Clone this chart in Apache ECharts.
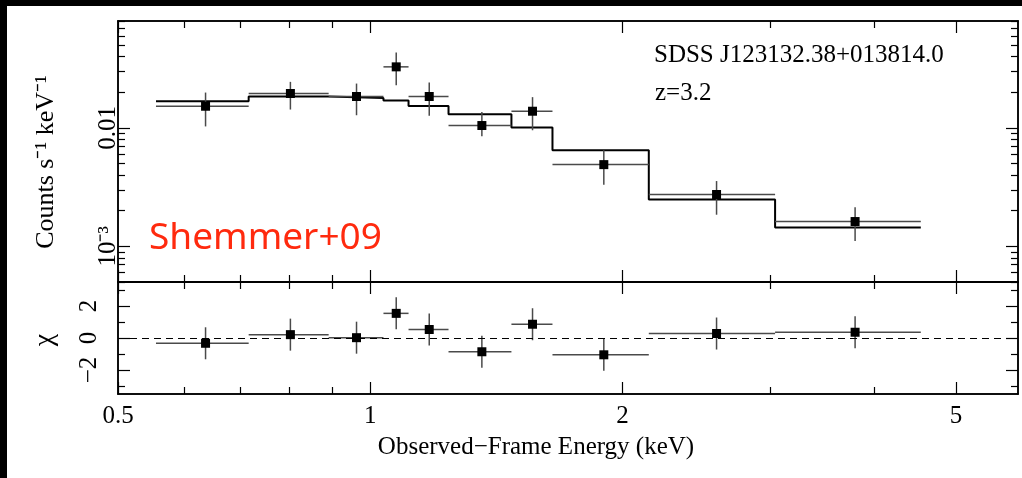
<!DOCTYPE html>
<html>
<head>
<meta charset="utf-8">
<script src="https://cdn.jsdelivr.net/npm/echarts@6/dist/echarts.min.js"></script>
<style>
html,body{margin:0;padding:0;background:#fff;overflow:hidden;}
#bt{position:absolute;left:0;top:0;right:0;height:6px;background:#000;}
#bl{position:absolute;left:0;top:0;bottom:0;width:7px;background:#000;}
#chart{position:absolute;left:0;top:0;width:1022px;height:478px;}
</style>
</head>
<body>
<div id="bt"></div>
<div id="bl"></div>
<div id="chart"></div>
<script>
// ---- data ----
const binEdges   = [0.555, 0.716, 0.892, 1.037, 1.111, 1.240, 1.474, 1.650, 2.150, 3.042, 4.54];
const binCenters = [0.636, 0.803, 0.963, 1.074, 1.176, 1.359, 1.562, 1.90, 2.59, 3.79];
const counts     = [0.01525, 0.01954, 0.01843, 0.0328, 0.01843, 0.01048, 0.01384, 0.0049, 0.00274, 0.00162];
const countsHi   = [0.0199, 0.0245, 0.0237, 0.0434, 0.0242, 0.01365, 0.0182, 0.00648, 0.00356, 0.00214];
const countsLo   = [0.0103, 0.0143, 0.0128, 0.0229, 0.0127, 0.0085, 0.00956, 0.00332, 0.00185, 0.00111];
const model      = [0.01682, 0.01843, 0.01793, 0.01704, 0.01535, 0.01303, 0.01008, 0.00648, 0.00249, 0.00144];
const chi        = [-0.33, 0.21, 0.02, 1.54, 0.53, -0.86, 0.86, -1.05, 0.28, 0.36];
const chiErr     = [1, 1, 1, 1, 1, 1, 1, 1, 1, 1];

const xRange = [0.5, 5.93];
const xMajorTicks = [0.5, 1, 2, 5];
const xTickLabels = ['0.5', '1', '2', '5'];
const xMinorTicks = [0.6, 0.7, 0.8, 0.9, 3, 4];
const yRange = [0.0005, 0.08];
const yMajorTicks = [0.001, 0.01];
const yTickLabels = ['10⁻³', '0.01'];
const yMinorTicks = [0.0005, 0.0006, 0.0007, 0.0008, 0.0009, 0.002, 0.003, 0.004, 0.005, 0.006, 0.007, 0.008, 0.009, 0.02, 0.03, 0.04, 0.05, 0.06, 0.07, 0.08];
const chiRange = [-3.5, 3.5];
const chiMajorTicks = [-2, 0, 2];
const chiTickLabels = ['−2', '0', '2'];
const chiMinorTicks = [-3, -1, 1, 3];

const SERIF = '"Liberation Serif","Times New Roman",serif';

// ---- build tables ----
const topErr = binCenters.map((c, i) => [c, counts[i], binEdges[i], binEdges[i + 1], countsLo[i], countsHi[i]]);
const botErr = binCenters.map((c, i) => [c, chi[i], binEdges[i], binEdges[i + 1], chi[i] - chiErr[i], chi[i] + chiErr[i]]);
const stepPts = [];
model.forEach((m, i) => { stepPts.push([binEdges[i], m]); stepPts.push([binEdges[i + 1], m]); });

const MAJ = 12, MIN = 7;
function axis(type, grid, pos, range, ticks, len, labels, labelOpt) {
  const a = {
    type: type, gridIndex: grid, position: pos, min: range[0], max: range[1],
    axisLine: {show: true, onZero: false, lineStyle: {color: '#000', width: 1.5}},
    axisTick: {show: true, inside: true, length: len, customValues: ticks, lineStyle: {color: '#000', width: 1.2}},
    splitLine: {show: false},
    axisLabel: {show: false}
  };
  if (type === 'log') a.logBase = 10;
  if (labels) {
    a.axisLabel = Object.assign({
      show: true, customValues: ticks, color: '#000', fontFamily: SERIF, fontSize: 25,
      formatter: function (v) {
        for (let k = 0; k < ticks.length; k++) if (Math.abs(ticks[k] - v) / Math.abs(ticks[k] || 1) < 1e-6) return labels[k];
        return '';
      }
    }, labelOpt || {});
  }
  return a;
}

const xAxes = [
  axis('log', 0, 'bottom', xRange, xMajorTicks, MAJ),
  axis('log', 0, 'bottom', xRange, xMinorTicks, MIN),
  axis('log', 0, 'top', xRange, xMajorTicks, MAJ),
  axis('log', 0, 'top', xRange, xMinorTicks, MIN),
  axis('log', 1, 'bottom', xRange, xMajorTicks, MAJ, xTickLabels, {margin: 10}),
  axis('log', 1, 'bottom', xRange, xMinorTicks, MIN),
  axis('log', 1, 'top', xRange, xMajorTicks, MAJ),
  axis('log', 1, 'top', xRange, xMinorTicks, MIN)
];
const yAxes = [
  axis('log', 0, 'left', yRange, yMajorTicks, MAJ, yTickLabels, {rotate: 90, margin: -3}),
  axis('log', 0, 'left', yRange, yMinorTicks, MIN),
  axis('log', 0, 'right', yRange, yMajorTicks, MAJ),
  axis('log', 0, 'right', yRange, yMinorTicks, MIN),
  axis('value', 1, 'left', chiRange, chiMajorTicks, MAJ, chiTickLabels, {rotate: 90, margin: 16}),
  axis('value', 1, 'left', chiRange, chiMinorTicks, MIN),
  axis('value', 1, 'right', chiRange, chiMajorTicks, MAJ),
  axis('value', 1, 'right', chiRange, chiMinorTicks, MIN)
];

function errRender(params, api) {
  const c = api.value(0), y = api.value(1);
  const pL = api.coord([api.value(2), y]);
  const pR = api.coord([api.value(3), y]);
  const pB = api.coord([c, api.value(4)]);
  const pT = api.coord([c, api.value(5)]);
  const st = {stroke: '#4a4a4a', lineWidth: 1.5};
  return {
    type: 'group',
    children: [
      {type: 'line', shape: {x1: pL[0], y1: pL[1], x2: pR[0], y2: pR[1]}, style: st},
      {type: 'line', shape: {x1: pB[0], y1: pB[1], x2: pT[0], y2: pT[1]}, style: st}
    ]
  };
}

const chart = echarts.init(document.getElementById('chart'), null, {renderer: 'canvas'});
chart.setOption({
  backgroundColor: 'transparent',
  animation: false,
  grid: [
    {left: 118, right: 4, top: 21, height: 261, outerBoundsMode: 'none', containLabel: false},
    {left: 118, right: 4, top: 282, height: 112, outerBoundsMode: 'none', containLabel: false}
  ],
  xAxis: xAxes,
  yAxis: yAxes,
  series: [
    {type: 'line', xAxisIndex: 0, yAxisIndex: 0, data: stepPts, showSymbol: false, symbol: 'none',
     lineStyle: {color: '#000', width: 2}, z: 3, silent: true},
    {type: 'custom', xAxisIndex: 0, yAxisIndex: 0, data: topErr, renderItem: errRender,
     encode: {x: [0, 2, 3], y: [1, 4, 5]}, z: 4, silent: true},
    {type: 'scatter', xAxisIndex: 0, yAxisIndex: 0, data: binCenters.map((c, i) => [c, counts[i]]),
     symbol: 'rect', symbolSize: 9, itemStyle: {color: '#000', opacity: 1}, z: 5, silent: true},
    {type: 'custom', xAxisIndex: 4, yAxisIndex: 4, data: botErr, renderItem: errRender,
     encode: {x: [0, 2, 3], y: [1, 4, 5]}, z: 4, silent: true},
    {type: 'scatter', xAxisIndex: 4, yAxisIndex: 4, data: binCenters.map((c, i) => [c, chi[i]]),
     symbol: 'rect', symbolSize: 9, itemStyle: {color: '#000', opacity: 1}, z: 5, silent: true,
     markLine: {silent: true, symbol: 'none', label: {show: false},
       lineStyle: {color: '#000', width: 1, type: [7, 5]}, data: [{yAxis: 0}]}}
  ],
  graphic: [
    {type: 'text', x: 654, y: 55, style: {text: 'SDSS J123132.38+013814.0', font: '25px ' + SERIF, fill: '#000', textVerticalAlign: 'middle'}},
    {type: 'text', x: 655, y: 93, style: {text: 'z=3.2', font: '25px ' + SERIF, fill: '#000', textVerticalAlign: 'middle'}},
    {type: 'text', x: 149, y: 238, style: {text: 'Shemmer+09', font: '37px "Comic Sans MS","Noto Sans",sans-serif', fill: '#ff2a0e', textVerticalAlign: 'middle'}},
    {type: 'text', x: 536, y: 447, style: {text: 'Observed−Frame Energy (keV)', font: '25px ' + SERIF, fill: '#000', textAlign: 'center', textVerticalAlign: 'middle'}},
    {type: 'text', x: 46, y: 162, rotation: Math.PI / 2, style: {text: 'Counts s⁻¹ keV⁻¹', font: '26px ' + SERIF, fill: '#000', textAlign: 'center', textVerticalAlign: 'middle'}},
    {type: 'text', x: 45, y: 340, rotation: Math.PI / 2, style: {text: 'χ', font: '28px ' + SERIF, fill: '#000', textAlign: 'center', textVerticalAlign: 'middle'}}
  ]
});
</script>
</body>
</html>
